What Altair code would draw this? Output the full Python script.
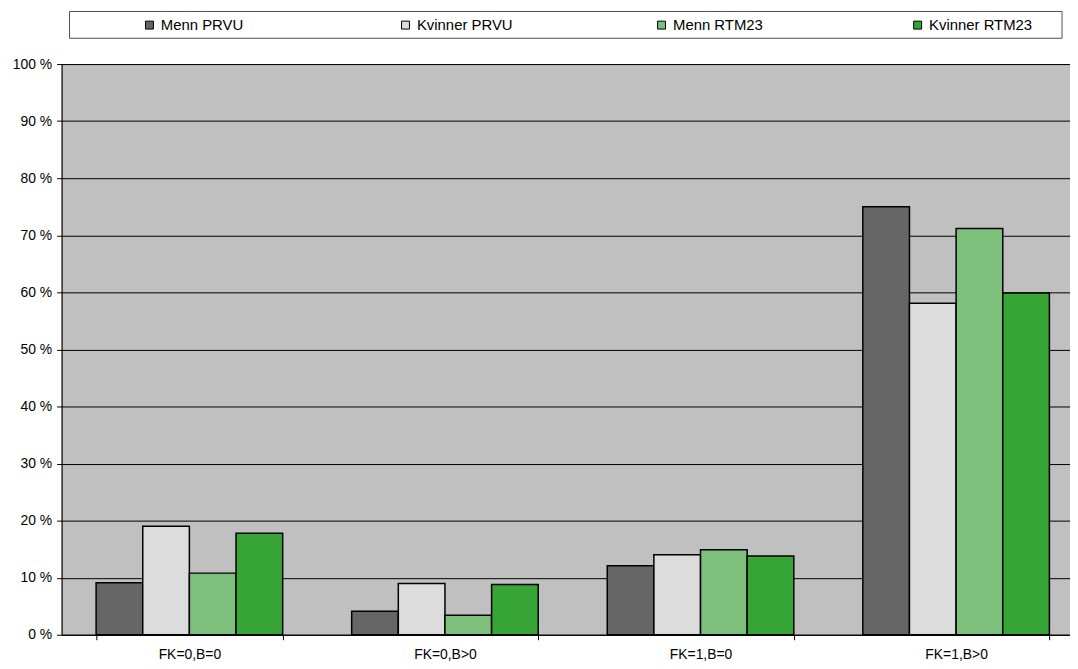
import altair as alt
import pandas as pd

categories = ["FK=0,B=0", "FK=0,B>0", "FK=1,B=0", "FK=1,B>0"]
series = ["Menn PRVU", "Kvinner PRVU", "Menn RTM23", "Kvinner RTM23"]
menn_prvu = [9.1, 4.1, 12.1, 75.0]
kvinner_prvu = [19.0, 9.0, 14.0, 58.1]
menn_rtm23 = [10.8, 3.4, 14.9, 71.2]
kvinner_rtm23 = [17.8, 8.8, 13.8, 59.9]
colors = ["#666666", "#dcdcdc", "#7cc07c", "#36a536"]
y_ticks = [0, 10, 20, 30, 40, 50, 60, 70, 80, 90, 100]

values = [menn_prvu, kvinner_prvu, menn_rtm23, kvinner_rtm23]
rows = []
for s, vals in zip(series, values):
    for c, v in zip(categories, vals):
        rows.append({"category": c, "series": s, "value": v})
df = pd.DataFrame(rows)

FONT = "Liberation Sans"
FS = 14

bars = alt.Chart(df).mark_bar(stroke="black", strokeWidth=1.5).encode(
    x=alt.X("category:N", sort=categories, title=None,
            scale=alt.Scale(paddingInner=0.27, paddingOuter=0.135),
            axis=alt.Axis(labelAngle=0, tickBand="extent", domainColor="black",
                          tickColor="black", tickSize=5, labelFontSize=FS,
                          labelFont=FONT, labelColor="black", labelPadding=8,
                          grid=False)),
    xOffset=alt.XOffset("series:N", sort=series),
    y=alt.Y("value:Q", title=None,
            scale=alt.Scale(domain=[0, 100], nice=False),
            axis=alt.Axis(values=y_ticks, labelExpr="datum.value + ' %'",
                          grid=True, gridColor="black", gridWidth=1,
                          domainColor="black", tickColor="black", tickSize=5,
                          labelFontSize=FS, labelFont=FONT, labelColor="black",
                          labelPadding=5)),
    fill=alt.Fill("series:N", sort=series,
                  scale=alt.Scale(domain=series, range=colors),
                  legend=alt.Legend(orient="none", legendX=81, legendY=-47,
                                    direction="horizontal", columns=4,
                                    gridAlign="all", columnPadding=135,
                                    padding=0, title=None,
                                    symbolType="square", symbolSize=64,
                                    symbolStrokeColor="black",
                                    symbolStrokeWidth=1,
                                    labelFontSize=15, labelFont=FONT,
                                    labelColor="black", labelOffset=4)),
)

legend_box = alt.Chart(pd.DataFrame({"k": [0]})).mark_rect(
    fill="white", stroke="#505050", strokeWidth=1
).encode(
    x=alt.value(8), x2=alt.value(1008), y=alt.value(-53), y2=alt.value(-26)
)

chart = alt.layer(legend_box, bars).properties(
    width=1030, height=575,
    autosize=alt.AutoSizeParams(type="none"),
    padding={"left": 54, "top": 54, "right": -14, "bottom": 30},
).configure_view(
    fill="#c0c0c0", stroke="#808080", strokeWidth=1
)

chart.save("out.html", embed_options={"renderer": "svg", "actions": False})
